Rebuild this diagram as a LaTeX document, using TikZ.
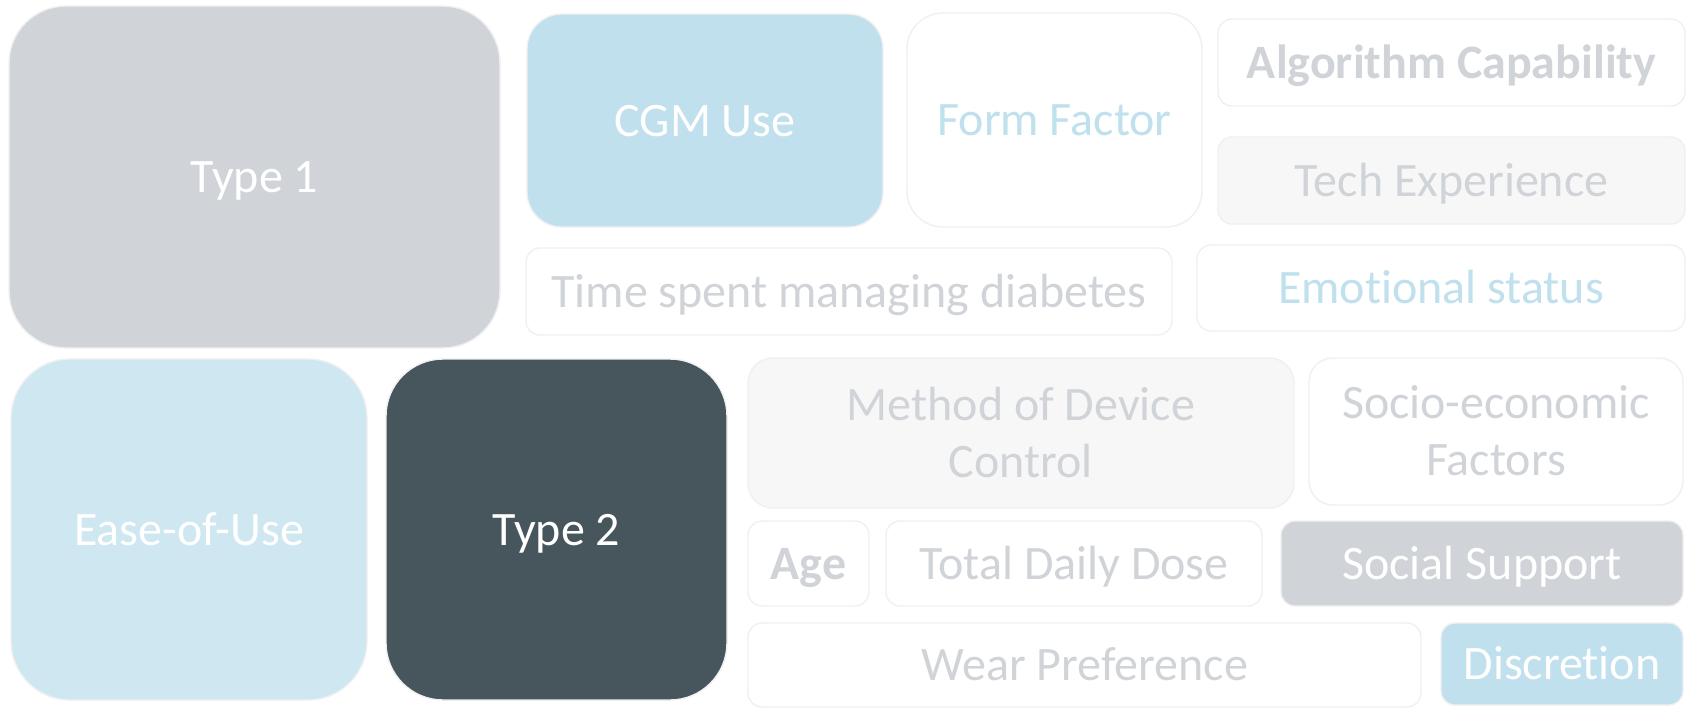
\documentclass[tikz,border=0pt]{standalone}
\usepackage{fontspec}
\setmainfont{Carlito}[Ligatures=NoCommon]
\definecolor{tilegray}{HTML}{D0D4D8}
\definecolor{tileblue}{HTML}{BFE0EC}
\definecolor{tilepale}{HTML}{CFE7F0}
\definecolor{tiledark}{HTML}{47555D}
\definecolor{tilemist}{HTML}{F7F7F7}
\definecolor{tileedge}{HTML}{F0F0F0}
% label block of one or two lines, set a little below the tile centre
\newcommand\tiletext[1]{\raisebox{-8.3pt}[0pt][0pt]{\begin{tabular}{@{}c@{}}#1\end{tabular}}}
\begin{document}
\begin{tikzpicture}[x=0.5pt,y=-0.5pt,
  tile/.style={draw=tileedge, line width=0.7pt, inner sep=0pt, align=center,
    font=\fontsize{24}{28.5}\selectfont},
  sz/.style n args={3}{minimum width=#1pt, minimum height=#2pt, rounded corners=#3pt},
  whitetile/.style={tile, fill=white, text=tilegray},
  bluetext/.style={tile, fill=white, text=tileblue},
  misttile/.style={tile, fill=tilemist, text=tilegray},
  graytile/.style={tile, fill=tilegray, text=white},
  bluetile/.style={tile, fill=tileblue, text=white},
  paletile/.style={tile, fill=tilepale, text=white},
  darktile/.style={tile, fill=tiledark, text=white},
  boldtext/.style={font=\fontsize{24}{28.5}\selectfont\bfseries}]
\useasboundingbox (0,0) rectangle (1694,708);
\fill[white] (0,0) rectangle (1694,708);

% upper half
\node[graytile, sz={245.5}{171}{28.5}] (t1) at (254.5,177) {\tiletext{Type 1}};
\node[bluetile, sz={178}{106.5}{17.5}] (cgm) at (705,120.5) {\tiletext{CGM Use}};
\node[bluetext, sz={147.5}{107}{18}] (form) at (1054.5,120) {\tiletext{Form Factor}};
\node[whitetile, boldtext, sz={233.5}{43.5}{7}] (algo) at (1451.5,62.5) {\tiletext{Algorithm Capability}};
\node[misttile, sz={233.5}{43.5}{7}] (tech) at (1451.5,180.5) {\tiletext{Tech Experience}};
\node[whitetile, sz={323}{43.5}{7}] (time) at (849,291.5) {\tiletext{Time spent managing diabetes}};
\node[bluetext, sz={244}{43}{7}] (emo) at (1441,288) {\tiletext{Emotional status}};

% lower half
\node[paletile, sz={178}{170.5}{29.5}] (ease) at (189,529.5) {\tiletext{Ease-of-Use}};
\node[darktile, sz={170.5}{170.5}{28.5}] (t2) at (556.5,529.5) {\tiletext{Type 2}};
\node[misttile, sz={273}{75}{12.5}] (method) at (1021,433) {\tiletext{Method of Device\\Control}};
\node[whitetile, sz={187}{73.5}{12}] (socio) at (1496,431.5) {\tiletext{Socio-economic\\Factors}};
\node[whitetile, boldtext, sz={60.5}{42.5}{7}] (age) at (808.5,563.5) {\tiletext{Age}};
\node[whitetile, sz={188}{42.5}{7}] (tdd) at (1074,563.5) {\tiletext{Total Daily Dose}};
\node[graytile, sz={201}{42.5}{7}] (social) at (1482,563.5) {\tiletext{Social Support}};
\node[whitetile, sz={336.5}{42}{7}] (wear) at (1084.5,665) {\tiletext{Wear Preference}};
\node[bluetile, sz={121}{41}{7}] (disc) at (1562,664) {\tiletext{Discretion}};
\end{tikzpicture}
\end{document}
